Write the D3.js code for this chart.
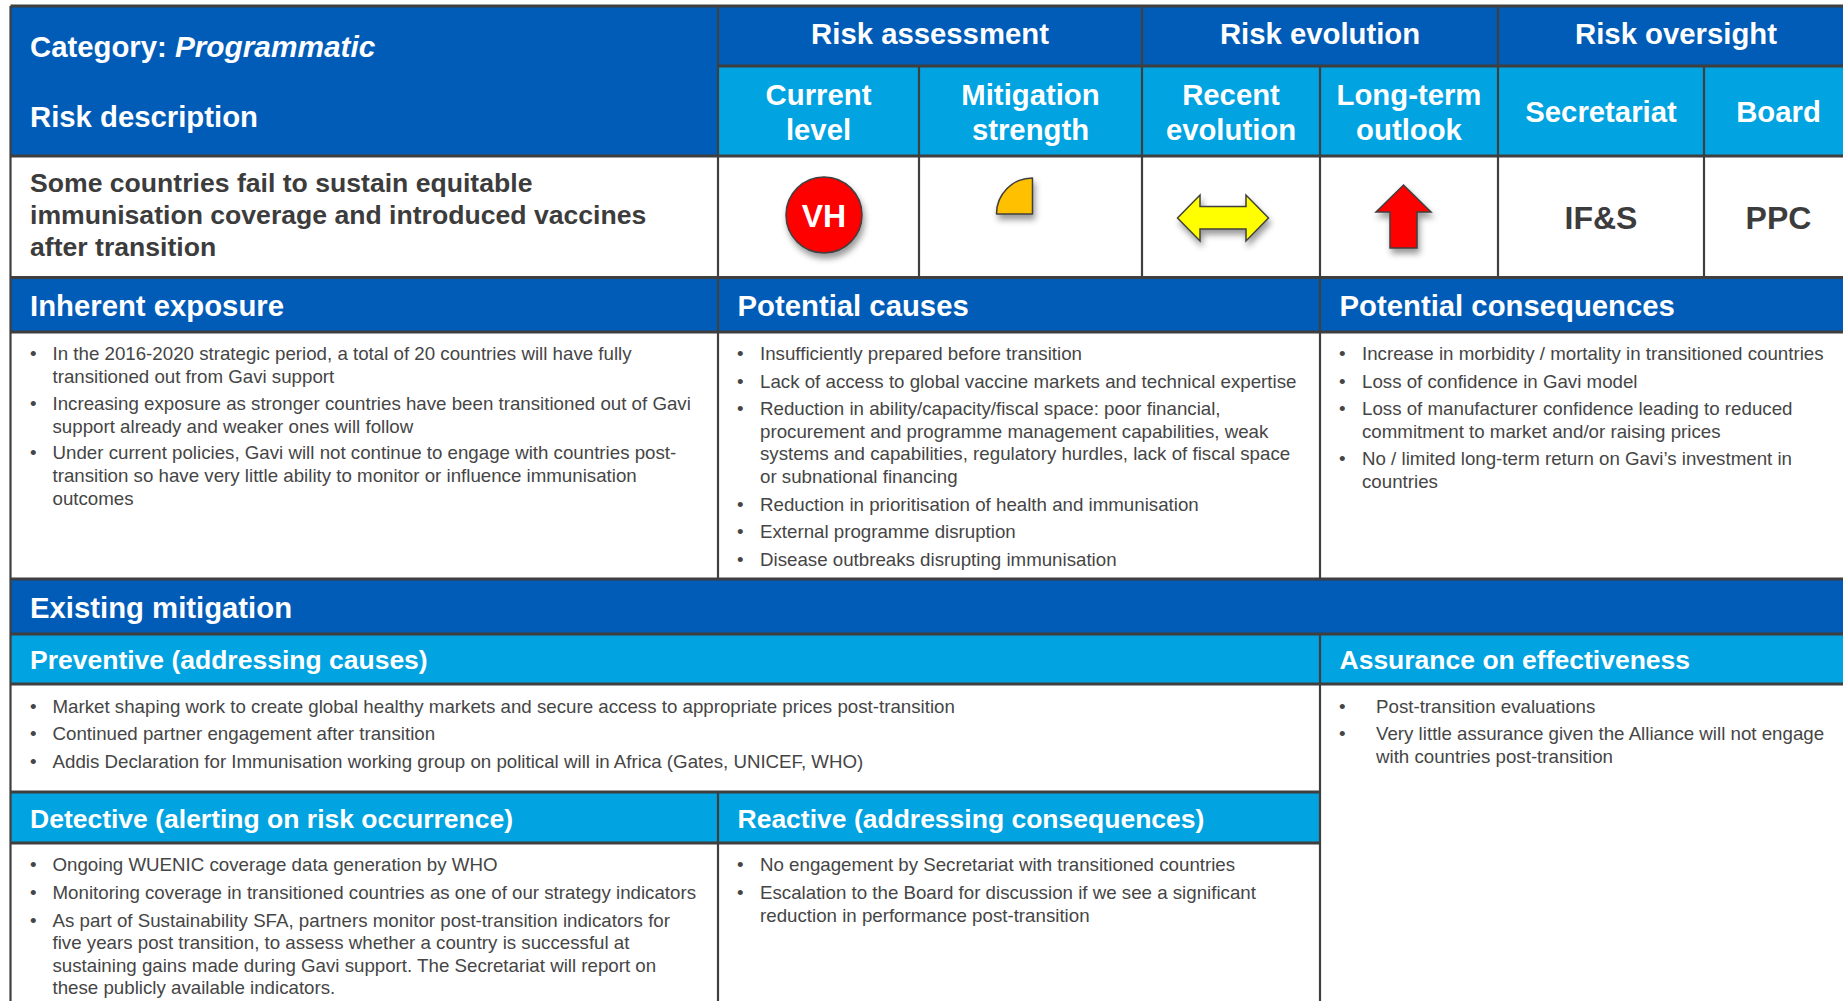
<!DOCTYPE html>
<html>
<head>
<meta charset="utf-8">
<script src="https://cdn.jsdelivr.net/npm/d3@7"></script>
<style>
html, body { margin: 0; padding: 0; background: #fff; overflow: hidden; }
text { font-family: "Liberation Sans", Arial, sans-serif; }
.band-text { font-weight: 700; fill: #fff; font-size: 29.3px; }
.band-text.small { font-size: 26.5px; }
.desc { font-weight: 700; fill: #3c3c3c; font-size: 26.6px; }
.owner { font-weight: 700; fill: #3c3c3c; font-size: 32px; text-anchor: middle; }
.body { fill: #454545; font-size: 18.72px; }
.rule { stroke: #3f3f3f; fill: none; }
</style>
</head>
<body>
<div id="chart"></div>
<script>
const width = 1843;
const height = 1001;

// ---- content ----
const riskCategory = 'Programmatic';
const riskDescription = ['Some countries fail to sustain equitable', 'immunisation coverage and introduced vaccines', 'after transition'];
const currentLevel = 'VH';
const mitigationStrength = 0.25; // share of the full circle
const recentEvolution = 'stable';
const longTermOutlook = 'up';
const secretariatOwner = 'IF&S';
const boardOwner = 'PPC';

const inherentExposure = [
  ['In the 2016-2020 strategic period, a total of 20 countries will have fully', 'transitioned out from Gavi support'],
  ['Increasing exposure as stronger countries have been transitioned out of Gavi', 'support already and weaker ones will follow'],
  ['Under current policies, Gavi will not continue to engage with countries post-', 'transition so have very little ability to monitor or influence immunisation', 'outcomes']
];
const potentialCauses = [
  ['Insufficiently prepared before transition'],
  ['Lack of access to global vaccine markets and technical expertise'],
  ['Reduction in ability/capacity/fiscal space: poor financial,', 'procurement and programme management capabilities, weak', 'systems and capabilities, regulatory hurdles, lack of fiscal space', 'or subnational financing'],
  ['Reduction in prioritisation of health and immunisation'],
  ['External programme disruption'],
  ['Disease outbreaks disrupting immunisation']
];
const potentialConsequences = [
  ['Increase in morbidity / mortality in transitioned countries'],
  ['Loss of confidence in Gavi model'],
  ['Loss of manufacturer confidence leading to reduced', 'commitment to market and/or raising prices'],
  ['No / limited long-term return on Gavi\u2019s investment in', 'countries']
];
const preventive = [
  ['Market shaping work to create global healthy markets and secure access to appropriate prices post-transition'],
  ['Continued partner engagement after transition'],
  ['Addis Declaration for Immunisation working group on political will in Africa (Gates, UNICEF, WHO)']
];
const assurance = [
  ['Post-transition evaluations'],
  ['Very little assurance given the Alliance will not engage', 'with countries post-transition']
];
const detective = [
  ['Ongoing WUENIC coverage data generation by WHO'],
  ['Monitoring coverage in transitioned countries as one of our strategy indicators'],
  ['As part of Sustainability SFA, partners monitor post-transition indicators for', 'five years post transition, to assess whether a country is successful at', 'sustaining gains made during Gavi support. The Secretariat will report on', 'these publicly available indicators.']
];
const reactive = [
  ['No engagement by Secretariat with transitioned countries'],
  ['Escalation to the Board for discussion if we see a significant', 'reduction in performance post-transition']
];

// ---- grid ----
const dark = '#015cb8';
const light = '#01a3e0';

const x = d3.scaleOrdinal()
  .domain(['a', 'b', 'c', 'd', 'e', 'f', 'g', 'h'])
  .range([10.5, 718, 919, 1142, 1320, 1498, 1704, 1860]);
const y = d3.scaleOrdinal()
  .domain(['top', 'sub', 'head', 'desc', 'band1', 'body1', 'band2', 'band3', 'body3', 'band4', 'end'])
  .range([6, 66, 156, 277.5, 332, 579, 634, 684, 792, 843, 1001]);

const bands = [
  {c0: 'a', c1: 'b', r0: 'top', r1: 'head', fill: dark},
  {c0: 'b', c1: 'h', r0: 'top', r1: 'sub', fill: dark},
  {c0: 'b', c1: 'h', r0: 'sub', r1: 'head', fill: light},
  {c0: 'a', c1: 'h', r0: 'desc', r1: 'band1', fill: dark},
  {c0: 'a', c1: 'h', r0: 'body1', r1: 'band2', fill: dark},
  {c0: 'a', c1: 'h', r0: 'band2', r1: 'band3', fill: light},
  {c0: 'a', c1: 'e', r0: 'body3', r1: 'band4', fill: light}
];

// [column, from row, to row]
const verticalRules = [
  ['a', 'top', 'end'],
  ['b', 'top', 'body1'],
  ['c', 'sub', 'desc'],
  ['d', 'top', 'desc'],
  ['e', 'sub', 'body1'],
  ['f', 'top', 'desc'],
  ['g', 'sub', 'desc'],
  ['e', 'band2', 'end'],
  ['b', 'body3', 'end']
];
// [row, from column, to column]
const horizontalRules = [
  ['top', 'a', 'h'],
  ['sub', 'b', 'h'],
  ['head', 'a', 'h'],
  ['desc', 'a', 'h'],
  ['band1', 'a', 'h'],
  ['body1', 'a', 'h'],
  ['band2', 'a', 'h'],
  ['band3', 'a', 'h'],
  ['body3', 'a', 'e'],
  ['band4', 'a', 'e']
];

// [label, x, baseline, anchor, small]
const headerLabels = [
  ['Risk description', 30, 126.5, 'start'],
  ['Risk assessment', 930, 43.5, 'middle'],
  ['Risk evolution', 1320, 43.5, 'middle'],
  ['Risk oversight', 1676, 43.5, 'middle'],
  ['Current', 818.5, 105, 'middle'],
  ['level', 818.5, 139.5, 'middle'],
  ['Mitigation', 1030.5, 105, 'middle'],
  ['strength', 1030.5, 139.5, 'middle'],
  ['Recent', 1231, 105, 'middle'],
  ['evolution', 1231, 139.5, 'middle'],
  ['Long-term', 1409, 105, 'middle'],
  ['outlook', 1409, 139.5, 'middle'],
  ['Secretariat', 1601, 122, 'middle'],
  ['Board', 1778.5, 122, 'middle'],
  ['Inherent exposure', 30, 316, 'start'],
  ['Potential causes', 737.5, 316, 'start'],
  ['Potential consequences', 1339.5, 316, 'start'],
  ['Existing mitigation', 30, 618, 'start'],
  ['Preventive (addressing causes)', 30, 668.5, 'start', true],
  ['Assurance on effectiveness', 1339.5, 668.5, 'start', true],
  ['Detective (alerting on risk occurrence)', 30, 828, 'start', true],
  ['Reactive (addressing consequences)', 737.5, 828, 'start', true]
];

const bulletBlocks = [
  {items: inherentExposure, bx: 30, tx: 52.5, y0: 360, para: 26.7, line: 23},
  {items: potentialCauses, bx: 737, tx: 760, y0: 360, para: 27.5, line: 22.7},
  {items: potentialConsequences, bx: 1339, tx: 1362, y0: 360, para: 27.5, line: 22.7},
  {items: preventive, bx: 30, tx: 52.5, y0: 713, para: 27.3, line: 23},
  {items: assurance, bx: 1339, tx: 1376, y0: 713, para: 27, line: 23},
  {items: detective, bx: 30, tx: 52.5, y0: 871, para: 28, line: 22.4},
  {items: reactive, bx: 737, tx: 760, y0: 871, para: 28, line: 22.6}
];

// ---- drawing ----
const svg = d3.select('#chart').append('svg')
  .attr('width', width)
  .attr('height', height)
  .style('display', 'block');

const shadow = svg.append('defs').append('filter')
  .attr('id', 'shadow')
  .attr('x', '-30%').attr('y', '-30%')
  .attr('width', '170%').attr('height', '170%');
shadow.append('feDropShadow')
  .attr('dx', 2).attr('dy', 5)
  .attr('stdDeviation', 3)
  .attr('flood-color', '#000')
  .attr('flood-opacity', 0.4);

svg.append('g').selectAll('rect')
  .data(bands)
  .join('rect')
  .attr('x', d => x(d.c0))
  .attr('y', d => y(d.r0))
  .attr('width', d => x(d.c1) - x(d.c0))
  .attr('height', d => y(d.r1) - y(d.r0))
  .attr('fill', d => d.fill);

svg.append('g').selectAll('line')
  .data(verticalRules)
  .join('line')
  .attr('class', 'rule')
  .attr('stroke-width', 2.2)
  .attr('x1', d => x(d[0])).attr('x2', d => x(d[0]))
  .attr('y1', d => y(d[1])).attr('y2', d => y(d[2]));

svg.append('g').selectAll('line')
  .data(horizontalRules)
  .join('line')
  .attr('class', 'rule')
  .attr('stroke-width', 3)
  .attr('y1', d => y(d[0])).attr('y2', d => y(d[0]))
  .attr('x1', d => x(d[1])).attr('x2', d => x(d[2]));

// category line mixes upright and italic
const cat = svg.append('text')
  .attr('class', 'band-text')
  .attr('x', 30)
  .attr('y', 56.5);
cat.append('tspan').text('Category: ');
cat.append('tspan').style('font-style', 'italic').style('font-size', '29.8px').text(riskCategory);

svg.append('g').selectAll('text')
  .data(headerLabels)
  .join('text')
  .attr('class', d => d[4] ? 'band-text small' : 'band-text')
  .attr('x', d => d[1])
  .attr('y', d => d[2])
  .attr('text-anchor', d => d[3])
  .text(d => d[0]);

svg.append('g').selectAll('text')
  .data(riskDescription)
  .join('text')
  .attr('class', 'desc')
  .attr('x', 30)
  .attr('y', (d, i) => 192 + i * 32)
  .text(d => d);

svg.append('text').attr('class', 'owner').attr('x', 1601).attr('y', 229).text(secretariatOwner);
svg.append('text').attr('class', 'owner').attr('x', 1778.5).attr('y', 229).text(boardOwner);

// level marker
svg.append('circle')
  .attr('cx', 824).attr('cy', 215).attr('r', 38)
  .attr('fill', '#ff0000')
  .attr('stroke', '#3f3f3f')
  .attr('stroke-width', 1.5)
  .attr('filter', 'url(#shadow)');
svg.append('text')
  .attr('x', 824).attr('y', 226.5)
  .attr('text-anchor', 'middle')
  .attr('font-weight', 700)
  .attr('font-size', 32)
  .attr('fill', '#fff')
  .text(currentLevel);

// mitigation strength: quarter pie
const strengthArc = d3.arc()
  .innerRadius(0)
  .outerRadius(36)
  .startAngle(-2 * Math.PI * mitigationStrength)
  .endAngle(0);
svg.append('path')
  .attr('transform', 'translate(1032.5,214)')
  .attr('d', strengthArc())
  .attr('fill', '#ffc000')
  .attr('stroke', '#3f3f3f')
  .attr('stroke-width', 1.5)
  .attr('stroke-linejoin', 'round')
  .attr('filter', 'url(#shadow)');

// evolution arrows, outlines around their own origin
const arrowShapes = {
  stable: [[-45.5, 0], [-23, -23], [-23, -11.5], [23, -11.5], [23, -23], [45.5, 0], [23, 23], [23, 11], [-23, 11], [-23, 23]],
  up: [[0, -31], [27.5, -4], [13.5, -4], [13.5, 32], [-13.5, 32], [-13.5, -4], [-27.5, -4]]
};
const arrowLine = d3.line().curve(d3.curveLinearClosed);

svg.append('path')
  .attr('transform', 'translate(1223,218)')
  .attr('d', arrowLine(arrowShapes[recentEvolution]))
  .attr('fill', '#ffff00')
  .attr('stroke', '#3f3f3f')
  .attr('stroke-width', 1.5)
  .attr('filter', 'url(#shadow)');
svg.append('path')
  .attr('transform', 'translate(1403.5,216)')
  .attr('d', arrowLine(arrowShapes[longTermOutlook]))
  .attr('fill', '#ff0000')
  .attr('stroke', '#3f3f3f')
  .attr('stroke-width', 1.5)
  .attr('filter', 'url(#shadow)');

// bullet lists
bulletBlocks.forEach(block => {
  let cursor = block.y0;
  const g = svg.append('g');
  block.items.forEach(lines => {
    g.append('text')
      .attr('class', 'body')
      .attr('x', block.bx)
      .attr('y', cursor)
      .text('\u2022');
    lines.forEach((line, i) => {
      g.append('text')
        .attr('class', 'body')
        .attr('x', block.tx)
        .attr('y', cursor + i * block.line)
        .text(line);
    });
    cursor += (lines.length - 1) * block.line + block.para;
  });
});
</script>
</body>
</html>
